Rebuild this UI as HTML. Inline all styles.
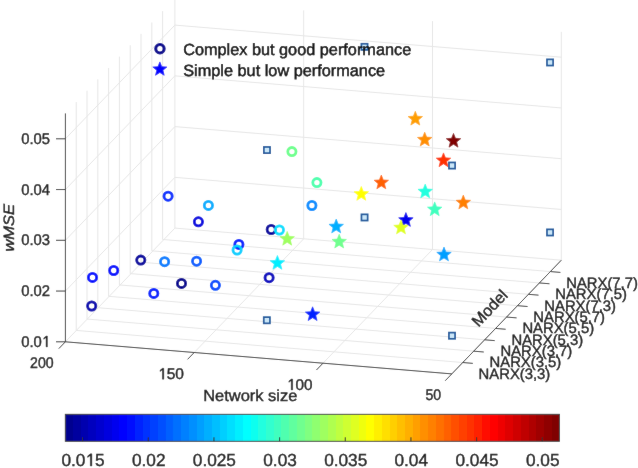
<!DOCTYPE html>
<html><head><meta charset="utf-8"><style>
html,body{margin:0;padding:0;background:#fff;width:638px;height:468px;overflow:hidden}
svg{display:block}
text{font-family:"Liberation Sans",sans-serif;stroke:#151515;stroke-width:0.4px;text-rendering:geometricPrecision}
.lg{stroke:#000;stroke-width:0.45px}
</style></head><body>
<svg width="638" height="468" viewBox="0 0 638 468" font-family="Liberation Sans, sans-serif">
<defs><filter id="bl" x="0" y="0" width="638" height="468" filterUnits="userSpaceOnUse"><feConvolveMatrix order="3" kernelMatrix="1 2 1 2 60.0 2 1 2 1" divisor="72.0" edgeMode="duplicate" preserveAlpha="true"/></filter><linearGradient id="jet" x1="0" y1="0" x2="1" y2="0"><stop offset="0.00000" stop-color="#00008f"/><stop offset="0.01562" stop-color="#00008f"/><stop offset="0.01562" stop-color="#00009f"/><stop offset="0.03125" stop-color="#00009f"/><stop offset="0.03125" stop-color="#0000af"/><stop offset="0.04688" stop-color="#0000af"/><stop offset="0.04688" stop-color="#0000bf"/><stop offset="0.06250" stop-color="#0000bf"/><stop offset="0.06250" stop-color="#0000cf"/><stop offset="0.07812" stop-color="#0000cf"/><stop offset="0.07812" stop-color="#0000df"/><stop offset="0.09375" stop-color="#0000df"/><stop offset="0.09375" stop-color="#0000ef"/><stop offset="0.10938" stop-color="#0000ef"/><stop offset="0.10938" stop-color="#0000ff"/><stop offset="0.12500" stop-color="#0000ff"/><stop offset="0.12500" stop-color="#0010ff"/><stop offset="0.14062" stop-color="#0010ff"/><stop offset="0.14062" stop-color="#0020ff"/><stop offset="0.15625" stop-color="#0020ff"/><stop offset="0.15625" stop-color="#0030ff"/><stop offset="0.17188" stop-color="#0030ff"/><stop offset="0.17188" stop-color="#0040ff"/><stop offset="0.18750" stop-color="#0040ff"/><stop offset="0.18750" stop-color="#0050ff"/><stop offset="0.20312" stop-color="#0050ff"/><stop offset="0.20312" stop-color="#0060ff"/><stop offset="0.21875" stop-color="#0060ff"/><stop offset="0.21875" stop-color="#0070ff"/><stop offset="0.23438" stop-color="#0070ff"/><stop offset="0.23438" stop-color="#0080ff"/><stop offset="0.25000" stop-color="#0080ff"/><stop offset="0.25000" stop-color="#008fff"/><stop offset="0.26562" stop-color="#008fff"/><stop offset="0.26562" stop-color="#009fff"/><stop offset="0.28125" stop-color="#009fff"/><stop offset="0.28125" stop-color="#00afff"/><stop offset="0.29688" stop-color="#00afff"/><stop offset="0.29688" stop-color="#00bfff"/><stop offset="0.31250" stop-color="#00bfff"/><stop offset="0.31250" stop-color="#00cfff"/><stop offset="0.32812" stop-color="#00cfff"/><stop offset="0.32812" stop-color="#00dfff"/><stop offset="0.34375" stop-color="#00dfff"/><stop offset="0.34375" stop-color="#00efff"/><stop offset="0.35938" stop-color="#00efff"/><stop offset="0.35938" stop-color="#00ffff"/><stop offset="0.37500" stop-color="#00ffff"/><stop offset="0.37500" stop-color="#10ffef"/><stop offset="0.39062" stop-color="#10ffef"/><stop offset="0.39062" stop-color="#20ffdf"/><stop offset="0.40625" stop-color="#20ffdf"/><stop offset="0.40625" stop-color="#30ffcf"/><stop offset="0.42188" stop-color="#30ffcf"/><stop offset="0.42188" stop-color="#40ffbf"/><stop offset="0.43750" stop-color="#40ffbf"/><stop offset="0.43750" stop-color="#50ffaf"/><stop offset="0.45312" stop-color="#50ffaf"/><stop offset="0.45312" stop-color="#60ff9f"/><stop offset="0.46875" stop-color="#60ff9f"/><stop offset="0.46875" stop-color="#70ff8f"/><stop offset="0.48438" stop-color="#70ff8f"/><stop offset="0.48438" stop-color="#80ff80"/><stop offset="0.50000" stop-color="#80ff80"/><stop offset="0.50000" stop-color="#8fff70"/><stop offset="0.51562" stop-color="#8fff70"/><stop offset="0.51562" stop-color="#9fff60"/><stop offset="0.53125" stop-color="#9fff60"/><stop offset="0.53125" stop-color="#afff50"/><stop offset="0.54688" stop-color="#afff50"/><stop offset="0.54688" stop-color="#bfff40"/><stop offset="0.56250" stop-color="#bfff40"/><stop offset="0.56250" stop-color="#cfff30"/><stop offset="0.57812" stop-color="#cfff30"/><stop offset="0.57812" stop-color="#dfff20"/><stop offset="0.59375" stop-color="#dfff20"/><stop offset="0.59375" stop-color="#efff10"/><stop offset="0.60938" stop-color="#efff10"/><stop offset="0.60938" stop-color="#ffff00"/><stop offset="0.62500" stop-color="#ffff00"/><stop offset="0.62500" stop-color="#ffef00"/><stop offset="0.64062" stop-color="#ffef00"/><stop offset="0.64062" stop-color="#ffdf00"/><stop offset="0.65625" stop-color="#ffdf00"/><stop offset="0.65625" stop-color="#ffcf00"/><stop offset="0.67188" stop-color="#ffcf00"/><stop offset="0.67188" stop-color="#ffbf00"/><stop offset="0.68750" stop-color="#ffbf00"/><stop offset="0.68750" stop-color="#ffaf00"/><stop offset="0.70312" stop-color="#ffaf00"/><stop offset="0.70312" stop-color="#ff9f00"/><stop offset="0.71875" stop-color="#ff9f00"/><stop offset="0.71875" stop-color="#ff8f00"/><stop offset="0.73438" stop-color="#ff8f00"/><stop offset="0.73438" stop-color="#ff8000"/><stop offset="0.75000" stop-color="#ff8000"/><stop offset="0.75000" stop-color="#ff7000"/><stop offset="0.76562" stop-color="#ff7000"/><stop offset="0.76562" stop-color="#ff6000"/><stop offset="0.78125" stop-color="#ff6000"/><stop offset="0.78125" stop-color="#ff5000"/><stop offset="0.79688" stop-color="#ff5000"/><stop offset="0.79688" stop-color="#ff4000"/><stop offset="0.81250" stop-color="#ff4000"/><stop offset="0.81250" stop-color="#ff3000"/><stop offset="0.82812" stop-color="#ff3000"/><stop offset="0.82812" stop-color="#ff2000"/><stop offset="0.84375" stop-color="#ff2000"/><stop offset="0.84375" stop-color="#ff1000"/><stop offset="0.85938" stop-color="#ff1000"/><stop offset="0.85938" stop-color="#ff0000"/><stop offset="0.87500" stop-color="#ff0000"/><stop offset="0.87500" stop-color="#ef0000"/><stop offset="0.89062" stop-color="#ef0000"/><stop offset="0.89062" stop-color="#df0000"/><stop offset="0.90625" stop-color="#df0000"/><stop offset="0.90625" stop-color="#cf0000"/><stop offset="0.92188" stop-color="#cf0000"/><stop offset="0.92188" stop-color="#bf0000"/><stop offset="0.93750" stop-color="#bf0000"/><stop offset="0.93750" stop-color="#af0000"/><stop offset="0.95312" stop-color="#af0000"/><stop offset="0.95312" stop-color="#9f0000"/><stop offset="0.96875" stop-color="#9f0000"/><stop offset="0.96875" stop-color="#8f0000"/><stop offset="0.98438" stop-color="#8f0000"/><stop offset="0.98438" stop-color="#800000"/><stop offset="1.00000" stop-color="#800000"/></linearGradient></defs><g filter="url(#bl)"><rect width="638" height="468" fill="#fff"/>
<g><line x1="451.80" y1="373.90" x2="561.30" y2="260.20" stroke="#e6e6e6" stroke-width="1.0"/><line x1="323.00" y1="363.20" x2="432.50" y2="249.50" stroke="#e6e6e6" stroke-width="1.0"/><line x1="194.20" y1="352.50" x2="303.70" y2="238.80" stroke="#e6e6e6" stroke-width="1.0"/><line x1="76.22" y1="330.43" x2="462.75" y2="362.53" stroke="#e6e6e6" stroke-width="1.0"/><line x1="87.02" y1="319.06" x2="473.70" y2="351.16" stroke="#e6e6e6" stroke-width="1.0"/><line x1="97.82" y1="307.69" x2="484.65" y2="339.79" stroke="#e6e6e6" stroke-width="1.0"/><line x1="108.62" y1="296.32" x2="495.60" y2="328.42" stroke="#e6e6e6" stroke-width="1.0"/><line x1="119.42" y1="284.95" x2="506.55" y2="317.05" stroke="#e6e6e6" stroke-width="1.0"/><line x1="130.22" y1="273.58" x2="517.50" y2="305.68" stroke="#e6e6e6" stroke-width="1.0"/><line x1="141.02" y1="262.21" x2="528.45" y2="294.31" stroke="#e6e6e6" stroke-width="1.0"/><line x1="151.82" y1="250.84" x2="539.40" y2="282.94" stroke="#e6e6e6" stroke-width="1.0"/><line x1="162.62" y1="239.47" x2="550.35" y2="271.57" stroke="#e6e6e6" stroke-width="1.0"/><line x1="76.22" y1="330.43" x2="76.22" y2="102.06" stroke="#e6e6e6" stroke-width="1.0"/><line x1="87.02" y1="319.06" x2="87.02" y2="90.69" stroke="#e6e6e6" stroke-width="1.0"/><line x1="97.82" y1="307.69" x2="97.82" y2="79.31" stroke="#e6e6e6" stroke-width="1.0"/><line x1="108.62" y1="296.32" x2="108.62" y2="67.94" stroke="#e6e6e6" stroke-width="1.0"/><line x1="119.42" y1="284.95" x2="119.42" y2="56.58" stroke="#e6e6e6" stroke-width="1.0"/><line x1="130.22" y1="273.58" x2="130.22" y2="45.21" stroke="#e6e6e6" stroke-width="1.0"/><line x1="141.02" y1="262.21" x2="141.02" y2="33.84" stroke="#e6e6e6" stroke-width="1.0"/><line x1="151.82" y1="250.84" x2="151.82" y2="22.47" stroke="#e6e6e6" stroke-width="1.0"/><line x1="162.62" y1="239.47" x2="162.62" y2="11.10" stroke="#e6e6e6" stroke-width="1.0"/><line x1="65.40" y1="291.05" x2="174.90" y2="177.35" stroke="#e6e6e6" stroke-width="1.0"/><line x1="65.40" y1="240.30" x2="174.90" y2="126.60" stroke="#e6e6e6" stroke-width="1.0"/><line x1="65.40" y1="189.55" x2="174.90" y2="75.85" stroke="#e6e6e6" stroke-width="1.0"/><line x1="65.40" y1="138.80" x2="174.90" y2="25.10" stroke="#e6e6e6" stroke-width="1.0"/><line x1="561.30" y1="260.20" x2="561.30" y2="31.82" stroke="#e6e6e6" stroke-width="1.0"/><line x1="432.50" y1="249.50" x2="432.50" y2="21.12" stroke="#e6e6e6" stroke-width="1.0"/><line x1="303.70" y1="238.80" x2="303.70" y2="10.43" stroke="#e6e6e6" stroke-width="1.0"/><line x1="174.90" y1="228.10" x2="174.90" y2="-0.27" stroke="#e6e6e6" stroke-width="1.0"/><line x1="174.90" y1="228.10" x2="561.30" y2="260.20" stroke="#e6e6e6" stroke-width="1.0"/><line x1="174.90" y1="177.35" x2="561.30" y2="209.45" stroke="#e6e6e6" stroke-width="1.0"/><line x1="174.90" y1="126.60" x2="561.30" y2="158.70" stroke="#e6e6e6" stroke-width="1.0"/><line x1="174.90" y1="75.85" x2="561.30" y2="107.95" stroke="#e6e6e6" stroke-width="1.0"/><line x1="174.90" y1="25.10" x2="561.30" y2="57.20" stroke="#e6e6e6" stroke-width="1.0"/><line x1="65.40" y1="341.80" x2="174.90" y2="228.10" stroke="#e6e6e6" stroke-width="1.0"/></g>
<g><line x1="65.40" y1="341.80" x2="65.40" y2="113.43" stroke="#333333" stroke-width="0.95"/><line x1="65.40" y1="341.80" x2="56.00" y2="341.80" stroke="#333333" stroke-width="0.95"/><line x1="65.40" y1="291.05" x2="56.00" y2="291.05" stroke="#333333" stroke-width="0.95"/><line x1="65.40" y1="240.30" x2="56.00" y2="240.30" stroke="#333333" stroke-width="0.95"/><line x1="65.40" y1="189.55" x2="56.00" y2="189.55" stroke="#333333" stroke-width="0.95"/><line x1="65.40" y1="138.80" x2="56.00" y2="138.80" stroke="#333333" stroke-width="0.95"/><line x1="65.40" y1="341.80" x2="451.80" y2="373.90" stroke="#333333" stroke-width="0.95"/><line x1="451.80" y1="373.90" x2="445.23" y2="380.72" stroke="#333333" stroke-width="0.95"/><line x1="323.00" y1="363.20" x2="316.43" y2="370.02" stroke="#333333" stroke-width="0.95"/><line x1="194.20" y1="352.50" x2="187.63" y2="359.32" stroke="#333333" stroke-width="0.95"/><line x1="65.40" y1="341.80" x2="58.83" y2="348.62" stroke="#333333" stroke-width="0.95"/><line x1="451.80" y1="373.90" x2="561.30" y2="260.20" stroke="#333333" stroke-width="0.95"/><line x1="462.75" y1="362.53" x2="472.82" y2="363.37" stroke="#333333" stroke-width="0.95"/><line x1="473.70" y1="351.16" x2="483.77" y2="352.00" stroke="#333333" stroke-width="0.95"/><line x1="484.65" y1="339.79" x2="494.72" y2="340.63" stroke="#333333" stroke-width="0.95"/><line x1="495.60" y1="328.42" x2="505.67" y2="329.26" stroke="#333333" stroke-width="0.95"/><line x1="506.55" y1="317.05" x2="516.62" y2="317.89" stroke="#333333" stroke-width="0.95"/><line x1="517.50" y1="305.68" x2="527.57" y2="306.52" stroke="#333333" stroke-width="0.95"/><line x1="528.45" y1="294.31" x2="538.52" y2="295.15" stroke="#333333" stroke-width="0.95"/><line x1="539.40" y1="282.94" x2="549.47" y2="283.78" stroke="#333333" stroke-width="0.95"/><line x1="550.35" y1="271.57" x2="560.42" y2="272.41" stroke="#333333" stroke-width="0.95"/></g>
<g><circle cx="168.10" cy="196.20" r="4.1" fill="none" stroke="#0030ff" stroke-width="2.8"/><circle cx="208.40" cy="205.40" r="4.1" fill="none" stroke="#00afff" stroke-width="2.8"/><circle cx="198.40" cy="221.80" r="4.1" fill="none" stroke="#0000df" stroke-width="2.8"/><circle cx="140.80" cy="260.10" r="4.1" fill="none" stroke="#00009f" stroke-width="2.8"/><circle cx="164.60" cy="261.70" r="4.1" fill="none" stroke="#0080ff" stroke-width="2.8"/><circle cx="196.60" cy="261.20" r="4.1" fill="none" stroke="#0060ff" stroke-width="2.8"/><circle cx="113.70" cy="270.50" r="4.1" fill="none" stroke="#0010ff" stroke-width="2.8"/><circle cx="92.50" cy="277.40" r="4.1" fill="none" stroke="#0010ff" stroke-width="2.8"/><circle cx="181.50" cy="283.40" r="4.1" fill="none" stroke="#00008f" stroke-width="2.8"/><circle cx="215.40" cy="285.30" r="4.1" fill="none" stroke="#0050ff" stroke-width="2.8"/><circle cx="153.80" cy="293.40" r="4.1" fill="none" stroke="#0020ff" stroke-width="2.8"/><circle cx="91.70" cy="306.00" r="4.1" fill="none" stroke="#0000af" stroke-width="2.8"/><circle cx="311.90" cy="205.50" r="4.1" fill="none" stroke="#008fff" stroke-width="2.8"/><circle cx="316.90" cy="182.60" r="4.1" fill="none" stroke="#50ffaf" stroke-width="2.8"/><circle cx="291.90" cy="151.60" r="4.1" fill="none" stroke="#70ff8f" stroke-width="2.8"/><circle cx="271.20" cy="229.50" r="4.1" fill="none" stroke="#00009f" stroke-width="2.8"/><circle cx="279.40" cy="230.00" r="4.1" fill="none" stroke="#00dfff" stroke-width="2.8"/><circle cx="238.90" cy="244.40" r="4.1" fill="none" stroke="#0020ff" stroke-width="2.8"/><circle cx="237.10" cy="250.00" r="4.1" fill="none" stroke="#00cfff" stroke-width="2.8"/><circle cx="269.10" cy="277.70" r="4.1" fill="none" stroke="#0000bf" stroke-width="2.8"/><path d="M415.30,111.30 L417.27,116.19 L422.53,116.55 L418.48,119.93 L419.77,125.05 L415.30,122.24 L410.83,125.05 L412.12,119.93 L408.07,116.55 L413.33,116.19Z" fill="#ff9f00" stroke="#ff9f00" stroke-width="0.6" stroke-linejoin="round"/><path d="M424.70,132.20 L426.67,137.09 L431.93,137.45 L427.88,140.83 L429.17,145.95 L424.70,143.14 L420.23,145.95 L421.52,140.83 L417.47,137.45 L422.73,137.09Z" fill="#ff8f00" stroke="#ff8f00" stroke-width="0.6" stroke-linejoin="round"/><path d="M453.50,133.40 L455.47,138.29 L460.73,138.65 L456.68,142.03 L457.97,147.15 L453.50,144.34 L449.03,147.15 L450.32,142.03 L446.27,138.65 L451.53,138.29Z" fill="#800000" stroke="#800000" stroke-width="0.6" stroke-linejoin="round"/><path d="M443.50,152.90 L445.47,157.79 L450.73,158.15 L446.68,161.53 L447.97,166.65 L443.50,163.84 L439.03,166.65 L440.32,161.53 L436.27,158.15 L441.53,157.79Z" fill="#ff3000" stroke="#ff3000" stroke-width="0.6" stroke-linejoin="round"/><path d="M381.30,175.00 L383.27,179.89 L388.53,180.25 L384.48,183.63 L385.77,188.75 L381.30,185.94 L376.83,188.75 L378.12,183.63 L374.07,180.25 L379.33,179.89Z" fill="#ff6000" stroke="#ff6000" stroke-width="0.6" stroke-linejoin="round"/><path d="M361.30,186.50 L363.27,191.39 L368.53,191.75 L364.48,195.13 L365.77,200.25 L361.30,197.44 L356.83,200.25 L358.12,195.13 L354.07,191.75 L359.33,191.39Z" fill="#ffff00" stroke="#ffff00" stroke-width="0.6" stroke-linejoin="round"/><path d="M425.20,184.10 L427.17,188.99 L432.43,189.35 L428.38,192.73 L429.67,197.85 L425.20,195.04 L420.73,197.85 L422.02,192.73 L417.97,189.35 L423.23,188.99Z" fill="#20ffdf" stroke="#20ffdf" stroke-width="0.6" stroke-linejoin="round"/><path d="M463.30,195.10 L465.27,199.99 L470.53,200.35 L466.48,203.73 L467.77,208.85 L463.30,206.04 L458.83,208.85 L460.12,203.73 L456.07,200.35 L461.33,199.99Z" fill="#ff8000" stroke="#ff8000" stroke-width="0.6" stroke-linejoin="round"/><path d="M434.70,201.90 L436.67,206.79 L441.93,207.15 L437.88,210.53 L439.17,215.65 L434.70,212.84 L430.23,215.65 L431.52,210.53 L427.47,207.15 L432.73,206.79Z" fill="#40ffbf" stroke="#40ffbf" stroke-width="0.6" stroke-linejoin="round"/><path d="M405.90,212.60 L407.87,217.49 L413.13,217.85 L409.08,221.23 L410.37,226.35 L405.90,223.54 L401.43,226.35 L402.72,221.23 L398.67,217.85 L403.93,217.49Z" fill="#0000ef" stroke="#0000ef" stroke-width="0.6" stroke-linejoin="round"/><path d="M401.00,220.10 L402.97,224.99 L408.23,225.35 L404.18,228.73 L405.47,233.85 L401.00,231.04 L396.53,233.85 L397.82,228.73 L393.77,225.35 L399.03,224.99Z" fill="#dfff20" stroke="#dfff20" stroke-width="0.6" stroke-linejoin="round"/><path d="M336.20,219.10 L338.17,223.99 L343.43,224.35 L339.38,227.73 L340.67,232.85 L336.20,230.04 L331.73,232.85 L333.02,227.73 L328.97,224.35 L334.23,223.99Z" fill="#00afff" stroke="#00afff" stroke-width="0.6" stroke-linejoin="round"/><path d="M339.20,234.20 L341.17,239.09 L346.43,239.45 L342.38,242.83 L343.67,247.95 L339.20,245.14 L334.73,247.95 L336.02,242.83 L331.97,239.45 L337.23,239.09Z" fill="#70ff8f" stroke="#70ff8f" stroke-width="0.6" stroke-linejoin="round"/><path d="M287.20,231.40 L289.17,236.29 L294.43,236.65 L290.38,240.03 L291.67,245.15 L287.20,242.34 L282.73,245.15 L284.02,240.03 L279.97,236.65 L285.23,236.29Z" fill="#9fff60" stroke="#9fff60" stroke-width="0.6" stroke-linejoin="round"/><path d="M277.40,255.50 L279.37,260.39 L284.63,260.75 L280.58,264.13 L281.87,269.25 L277.40,266.44 L272.93,269.25 L274.22,264.13 L270.17,260.75 L275.43,260.39Z" fill="#00efff" stroke="#00efff" stroke-width="0.6" stroke-linejoin="round"/><path d="M312.60,306.80 L314.57,311.69 L319.83,312.05 L315.78,315.43 L317.07,320.55 L312.60,317.74 L308.13,320.55 L309.42,315.43 L305.37,312.05 L310.63,311.69Z" fill="#0020ff" stroke="#0020ff" stroke-width="0.6" stroke-linejoin="round"/><path d="M444.00,247.10 L445.97,251.99 L451.23,252.35 L447.18,255.73 L448.47,260.85 L444.00,258.04 L439.53,260.85 L440.82,255.73 L436.77,252.35 L442.03,251.99Z" fill="#009fff" stroke="#009fff" stroke-width="0.6" stroke-linejoin="round"/><rect x="361.40" y="43.75" width="6.2" height="6.2" fill="#cbe6f8" stroke="#18599c" stroke-width="1.7"/><rect x="546.95" y="59.35" width="6.2" height="6.2" fill="#cbe6f8" stroke="#18599c" stroke-width="1.7"/><rect x="263.85" y="146.95" width="6.2" height="6.2" fill="#cbe6f8" stroke="#18599c" stroke-width="1.7"/><rect x="448.95" y="162.45" width="6.2" height="6.2" fill="#cbe6f8" stroke="#18599c" stroke-width="1.7"/><rect x="361.45" y="214.35" width="6.2" height="6.2" fill="#cbe6f8" stroke="#18599c" stroke-width="1.7"/><rect x="546.95" y="229.35" width="6.2" height="6.2" fill="#cbe6f8" stroke="#18599c" stroke-width="1.7"/><rect x="263.75" y="317.15" width="6.2" height="6.2" fill="#cbe6f8" stroke="#18599c" stroke-width="1.7"/><rect x="448.90" y="332.60" width="6.2" height="6.2" fill="#cbe6f8" stroke="#18599c" stroke-width="1.7"/></g>
<g><circle cx="159.95" cy="48.8" r="4.2" fill="none" stroke="#00008f" stroke-width="3.0"/><path d="M159.85,61.90 L161.76,66.67 L166.89,67.01 L162.95,70.31 L164.20,75.29 L159.85,72.56 L155.50,75.29 L156.75,70.31 L152.81,67.01 L157.94,66.67Z" fill="#0000ff" stroke="#0000ff" stroke-width="0.6" stroke-linejoin="round"/></g>
<g><rect x="65.3" y="414.3" width="494.10" height="27.00" fill="url(#jet)"/><rect x="65.3" y="414.3" width="494.10" height="27.00" fill="none" stroke="#333333" stroke-width="0.9"/><line x1="82.60" y1="441.3" x2="82.60" y2="437.3" stroke="#333333" stroke-width="1"/><line x1="148.27" y1="441.3" x2="148.27" y2="437.3" stroke="#333333" stroke-width="1"/><line x1="213.94" y1="441.3" x2="213.94" y2="437.3" stroke="#333333" stroke-width="1"/><line x1="279.61" y1="441.3" x2="279.61" y2="437.3" stroke="#333333" stroke-width="1"/><line x1="345.28" y1="441.3" x2="345.28" y2="437.3" stroke="#333333" stroke-width="1"/><line x1="410.95" y1="441.3" x2="410.95" y2="437.3" stroke="#333333" stroke-width="1"/><line x1="476.62" y1="441.3" x2="476.62" y2="437.3" stroke="#333333" stroke-width="1"/><line x1="542.29" y1="441.3" x2="542.29" y2="437.3" stroke="#333333" stroke-width="1"/></g>
<g><text x="-21.55" y="5.99" font-size="17.40" fill="#151515" textLength="43.15" lengthAdjust="spacingAndGlyphs" transform="translate(83.00,460.00) rotate(0)">0.0 5</text><path d="M0.3730,0 L0.2847,0 L0.2847,0.604 L0.1294,0.493 L0.1294,0.576 L0.2920,0.698 L0.3730,0.698 Z" fill="#151515" stroke="#151515" stroke-width="0.4" vector-effect="non-scaling-stroke" transform="translate(83.00,460.00) rotate(0) translate(2.421,5.990) scale(17.2434,-17.4000)"/><text x="-16.68" y="5.99" font-size="17.40" fill="#151515" textLength="33.56" lengthAdjust="spacingAndGlyphs" transform="translate(148.67,460.00) rotate(0)">0.02</text><text x="-21.55" y="5.99" font-size="17.40" fill="#151515" textLength="43.15" lengthAdjust="spacingAndGlyphs" transform="translate(214.34,460.00) rotate(0)">0.025</text><text x="-16.74" y="5.99" font-size="17.40" fill="#151515" textLength="33.56" lengthAdjust="spacingAndGlyphs" transform="translate(280.01,460.00) rotate(0)">0.03</text><text x="-21.55" y="5.99" font-size="17.40" fill="#151515" textLength="43.15" lengthAdjust="spacingAndGlyphs" transform="translate(345.68,460.00) rotate(0)">0.035</text><text x="-16.86" y="5.99" font-size="17.40" fill="#151515" textLength="33.56" lengthAdjust="spacingAndGlyphs" transform="translate(411.35,460.00) rotate(0)">0.04</text><text x="-21.55" y="5.99" font-size="17.40" fill="#151515" textLength="43.15" lengthAdjust="spacingAndGlyphs" transform="translate(477.02,460.00) rotate(0)">0.045</text><text x="-16.76" y="5.99" font-size="17.40" fill="#151515" textLength="33.56" lengthAdjust="spacingAndGlyphs" transform="translate(542.69,460.00) rotate(0)">0.05</text><text x="21.26" y="346.89" font-size="15.50" fill="#151515" textLength="28.84" lengthAdjust="spacingAndGlyphs">0.0 </text><path d="M0.3730,0 L0.2847,0 L0.2847,0.604 L0.1294,0.493 L0.1294,0.576 L0.2920,0.698 L0.3730,0.698 Z" fill="#151515" stroke="#151515" stroke-width="0.4" vector-effect="non-scaling-stroke" transform="translate(41.859,346.886) scale(14.8180,-15.5000)"/><text x="21.26" y="296.14" font-size="15.50" fill="#151515" textLength="28.84" lengthAdjust="spacingAndGlyphs">0.02</text><text x="21.26" y="245.39" font-size="15.50" fill="#151515" textLength="28.84" lengthAdjust="spacingAndGlyphs">0.03</text><text x="21.26" y="194.64" font-size="15.50" fill="#151515" textLength="28.84" lengthAdjust="spacingAndGlyphs">0.04</text><text x="21.26" y="143.89" font-size="15.50" fill="#151515" textLength="28.84" lengthAdjust="spacingAndGlyphs">0.05</text><text x="-11.87" y="5.34" font-size="15.50" fill="#151515" textLength="23.59" lengthAdjust="spacingAndGlyphs" transform="translate(41.95,362.95) rotate(0)">200</text><text x="-13.65" y="5.34" font-size="15.50" fill="#151515" textLength="25.89" lengthAdjust="spacingAndGlyphs" transform="translate(171.65,373.80) rotate(0)"> 50</text><path d="M0.3730,0 L0.2847,0 L0.2847,0.604 L0.1294,0.493 L0.1294,0.576 L0.2920,0.698 L0.3730,0.698 Z" fill="#151515" stroke="#151515" stroke-width="0.4" vector-effect="non-scaling-stroke" transform="translate(171.65,373.80) rotate(0) translate(-13.645,5.336) scale(15.5167,-15.5000)"/><text x="-13.42" y="5.34" font-size="15.50" fill="#151515" textLength="25.47" lengthAdjust="spacingAndGlyphs" transform="translate(300.35,384.60) rotate(0)"> 00</text><path d="M0.3730,0 L0.2847,0 L0.2847,0.604 L0.1294,0.493 L0.1294,0.576 L0.2920,0.698 L0.3730,0.698 Z" fill="#151515" stroke="#151515" stroke-width="0.4" vector-effect="non-scaling-stroke" transform="translate(300.35,384.60) rotate(0) translate(-13.422,5.336) scale(15.2633,-15.5000)"/><text x="-7.83" y="5.34" font-size="15.50" fill="#151515" textLength="15.65" lengthAdjust="spacingAndGlyphs" transform="translate(433.35,394.75) rotate(0)">50</text><text x="203.15" y="401.00" font-size="15.99" fill="#151515" textLength="94.28" lengthAdjust="spacingAndGlyphs">Network size</text><text x="478.58" y="378.80" font-size="15.0" fill="#151515" textLength="71.74" lengthAdjust="spacingAndGlyphs">NARX(3,3)</text><text x="489.53" y="367.43" font-size="15.0" fill="#151515" textLength="71.74" lengthAdjust="spacingAndGlyphs">NARX(3,5)</text><text x="500.48" y="356.06" font-size="15.0" fill="#151515" textLength="71.74" lengthAdjust="spacingAndGlyphs">NARX(3,7)</text><text x="511.43" y="344.69" font-size="15.0" fill="#151515" textLength="71.74" lengthAdjust="spacingAndGlyphs">NARX(5,3)</text><text x="522.38" y="333.32" font-size="15.0" fill="#151515" textLength="71.74" lengthAdjust="spacingAndGlyphs">NARX(5,5)</text><text x="533.33" y="321.95" font-size="15.0" fill="#151515" textLength="71.74" lengthAdjust="spacingAndGlyphs">NARX(5,7)</text><text x="544.28" y="310.58" font-size="15.0" fill="#151515" textLength="71.74" lengthAdjust="spacingAndGlyphs">NARX(7,3)</text><text x="555.23" y="299.21" font-size="15.0" fill="#151515" textLength="71.74" lengthAdjust="spacingAndGlyphs">NARX(7,5)</text><text x="566.18" y="287.84" font-size="15.0" fill="#151515" textLength="71.74" lengthAdjust="spacingAndGlyphs">NARX(7,7)</text><text x="-22.05" y="5.75" font-size="16.10" fill="#151515" textLength="43.85" lengthAdjust="spacingAndGlyphs" transform="translate(489.50,307.80) rotate(-46.2)">Model</text><text x="-24.32" y="5.16" font-size="15.00" font-style="italic" fill="#151515" textLength="47.67" lengthAdjust="spacingAndGlyphs" transform="translate(8.55,227.25) rotate(-90)">wMSE</text><text x="183.17" y="55.10" font-size="16.19" fill="#000" textLength="228.05" lengthAdjust="spacingAndGlyphs" class="lg">Complex but good performance</text><text x="183.26" y="75.80" font-size="16.19" fill="#000" textLength="201.86" lengthAdjust="spacingAndGlyphs" class="lg">Simple but low performance</text></g></g>
</svg>
</body></html>
